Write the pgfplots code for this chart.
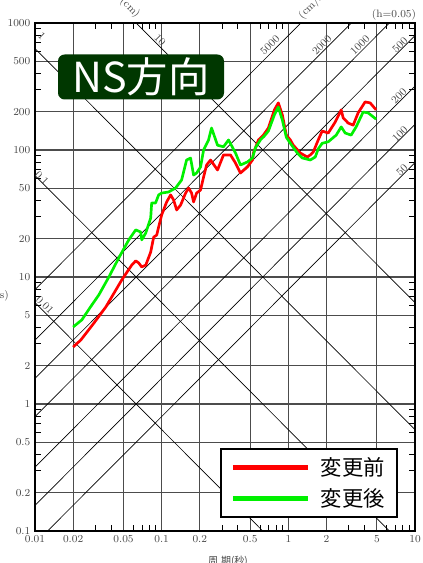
\documentclass[border=0pt]{standalone}
\usepackage{fontspec}
\usepackage{pgfplots}
\pgfplotsset{compat=1.18}
\usepackage{pgfplotstable}
\newfontfamily\cjk{Noto Sans CJK JP}
\definecolor{specred}{RGB}{255,0,0}
\definecolor{specgreen}{RGB}{0,240,0}
\definecolor{titlegreen}{RGB}{0,55,0}
\definecolor{labelgray}{RGB}{70,70,70}

% period (s) vs pseudo velocity (cm/s), h=0.05
\pgfplotstableread{
T Sv
0.0200 2.81
0.0230 3.19
0.0292 4.34
0.0362 5.80
0.0484 9.47
0.0580 12.4
0.0624 13.4
0.0659 12.9
0.0696 12.0
0.0749 12.4
0.0819 15.7
0.0865 20.6
0.0914 21.4
0.0947 24.8
0.1000 30.8
0.1095 39.0
0.1177 44.3
0.1243 40.4
0.1313 33.7
0.1412 36.9
0.1545 45.8
0.1632 50.2
0.1723 45.8
0.1787 39.0
0.1888 45.8
0.2028 48.4
0.2143 61.3
0.2263 76.2
0.2432 83.4
0.2761 69.6
0.3077 91.4
0.3494 91.4
0.3827 79.0
0.4190 65.9
0.4755 73.5
0.5209 83.4
0.5303 94.7
0.5808 120
0.6355 131
0.6960 149
0.7762 207
0.834 235
0.897 189
0.964 131
1.037 120
1.095 109
1.243 94.7
1.411 88.1
1.490 91.4
1.574 96.4
1.722 120
1.850 141
2.065 136
2.345 166
2.614 207
2.710 179
2.966 163
3.250 157
3.557 196
4.037 239
4.424 235
4.932 207
}\before

\pgfplotstableread{
T Sv
0.0200 4.04
0.0234 4.59
0.0281 6.02
0.0319 7.22
0.0383 10.0
0.0458 14.1
0.0550 19.6
0.0624 23.5
0.0683 22.6
0.0696 19.6
0.0749 22.2
0.0819 29.1
0.0834 38.3
0.0895 38.3
0.0947 44.3
0.1000 45.8
0.1135 46.7
0.1288 50.2
0.1436 58.0
0.1574 83.4
0.1691 86.5
0.1787 63.5
0.1888 65.9
0.2028 73.5
0.2143 100
0.2345 120
0.2477 149
0.2761 109
0.3077 106
0.3373 120
0.3827 94.7
0.4190 76.2
0.4755 80.5
0.5209 86.5
0.5497 104
0.6020 120
0.6475 129
0.6960 141
0.7762 189
0.834 218
0.897 172
0.964 126
1.037 113
1.177 94.7
1.289 86.5
1.490 83.4
1.632 88.1
1.722 102
1.852 113
2.065 116
2.388 131
2.614 152
2.811 136
3.133 131
3.430 152
3.897 199
4.266 196
4.932 175
}\after

\begin{document}
\begin{tikzpicture}[x=1pt,y=1pt]
\begin{axis}[
  at={(0,0)}, anchor=south west,
  scale only axis, width=285pt, height=381pt,
  xmode=log, ymode=log,
  xmin=0.01, xmax=10, ymin=0.1, ymax=1000,
  xtick={0.01,0.02,0.05,0.1,0.2,0.5,1,2,5,10},
  xticklabels={0.01,0.02,0.05,0.1,0.2,0.5,1,2,5,10},
  ytick={0.1,0.2,0.5,1,2,5,10,20,50,100,200,500,1000},
  yticklabels={0.1,0.2,0.5,1,2,5,10,20,50,100,200,500,1000},
  minor xtick={0.03,0.04,0.06,0.07,0.08,0.09,0.3,0.4,0.6,0.7,0.8,0.9,3,4,6,7,8,9},
  minor ytick={0.3,0.4,0.6,0.7,0.8,0.9,3,4,6,7,8,9,30,40,60,70,80,90,300,400,600,700,800,900},
  grid=major,
  major grid style={black!70, line width=0.9pt},
  axis line style={black, line width=1.2pt},
  major tick length=0pt,
  minor tick length=4.5pt,
  tick style={black, line width=0.8pt},
  tick align=inside,
  tick label style={font=\fontsize{8}{9}\selectfont, text=labelgray},
  legend image code/.code={\draw[#1, line width=3.8pt] (0pt,0pt) -- (56pt,0pt);},
  legend style={at={(0.955,0.026)}, anchor=south east, draw=black,
    line width=1.6pt, fill=white, inner xsep=7pt, inner ysep=4.5pt,
    row sep=4pt, font=\cjk\fontsize{16}{19}\selectfont},
  legend cell align=left,
]
% displacement lines (cm)
\addplot[black, line width=0.5pt, forget plot] coordinates {(0.01,6.2832) (10,0.0062832)};
\addplot[black, line width=0.5pt, forget plot] coordinates {(0.01,62.832) (10,0.062832)};
\addplot[black, line width=0.5pt, forget plot] coordinates {(0.01,628.32) (10,0.62832)};
\addplot[black, line width=0.5pt, forget plot] coordinates {(0.01,6283.2) (10,6.2832)};
% acceleration lines (cm/s^2)
\addplot[black, line width=0.5pt, forget plot] coordinates {(0.01,0.0796) (10,79.58)};
\addplot[black, line width=0.5pt, forget plot] coordinates {(0.01,0.1592) (10,159.2)};
\addplot[black, line width=0.5pt, forget plot] coordinates {(0.01,0.3183) (10,318.3)};
\addplot[black, line width=0.5pt, forget plot] coordinates {(0.01,0.7958) (10,795.8)};
\addplot[black, line width=0.5pt, forget plot] coordinates {(0.01,1.5915) (10,1591.5)};
\addplot[black, line width=0.5pt, forget plot] coordinates {(0.01,3.1831) (10,3183.1)};
\addplot[black, line width=0.5pt, forget plot] coordinates {(0.01,7.9577) (10,7957.7)};
% spectra
\addplot[specred, line width=2pt, line join=round] table[x=T, y=Sv] {\before};
\addlegendentry{\hspace{6pt}変更前}
\addplot[specgreen, line width=2pt, line join=round] table[x=T, y=Sv] {\after};
\addlegendentry{\hspace{6pt}変更後}
\end{axis}

% title box
\node[fill=titlegreen, rounded corners=5pt, minimum width=124.5pt, minimum height=33.75pt,
  text=white, font=\cjk\fontsize{31}{31}\selectfont, inner sep=0pt] at (79.5,340.5) {NS方向};

% labels of the diagonal lines
\begin{scope}[every node/.style={font=\fontsize{8}{9}\selectfont, text=labelgray, inner sep=0pt}]
\node[rotate=-45] at (5.25,371.25) {1};
\node[rotate=-45] at (93.75,368.25) {10};
\node[rotate=-45] at (5.25,264.75) {0.1};
\node[rotate=-45] at (7.5,169.5) {0.01};
\node[rotate=45] at (176.25,364.5) {5000};
\node[rotate=45] at (215.25,364.5) {2000};
\node[rotate=45] at (243.75,364.5) {1000};
\node[rotate=45] at (273.75,364.5) {500};
\node[rotate=45] at (273,326.25) {200};
\node[rotate=45] at (273.75,297.75) {100};
\node[rotate=45] at (275.25,270.75) {50};
\node[rotate=-45] at (71.25,392.25) {(cm)};
\node[rotate=45, anchor=west] at (198.75,385.5) {(cm/s$^2$)};
\node at (269.25,387) {(h=0.05)};
\node[font=\cjk\fontsize{7.5}{8}\selectfont] at (144.75,-22.5) {周\;期(秒)};
\node[anchor=east] at (-19.5,176.25) {(cm/s)};
\end{scope}

\pgfresetboundingbox
\path[use as bounding box] (-26.25,-24) rectangle (291,398.25);
\end{tikzpicture}
\end{document}
